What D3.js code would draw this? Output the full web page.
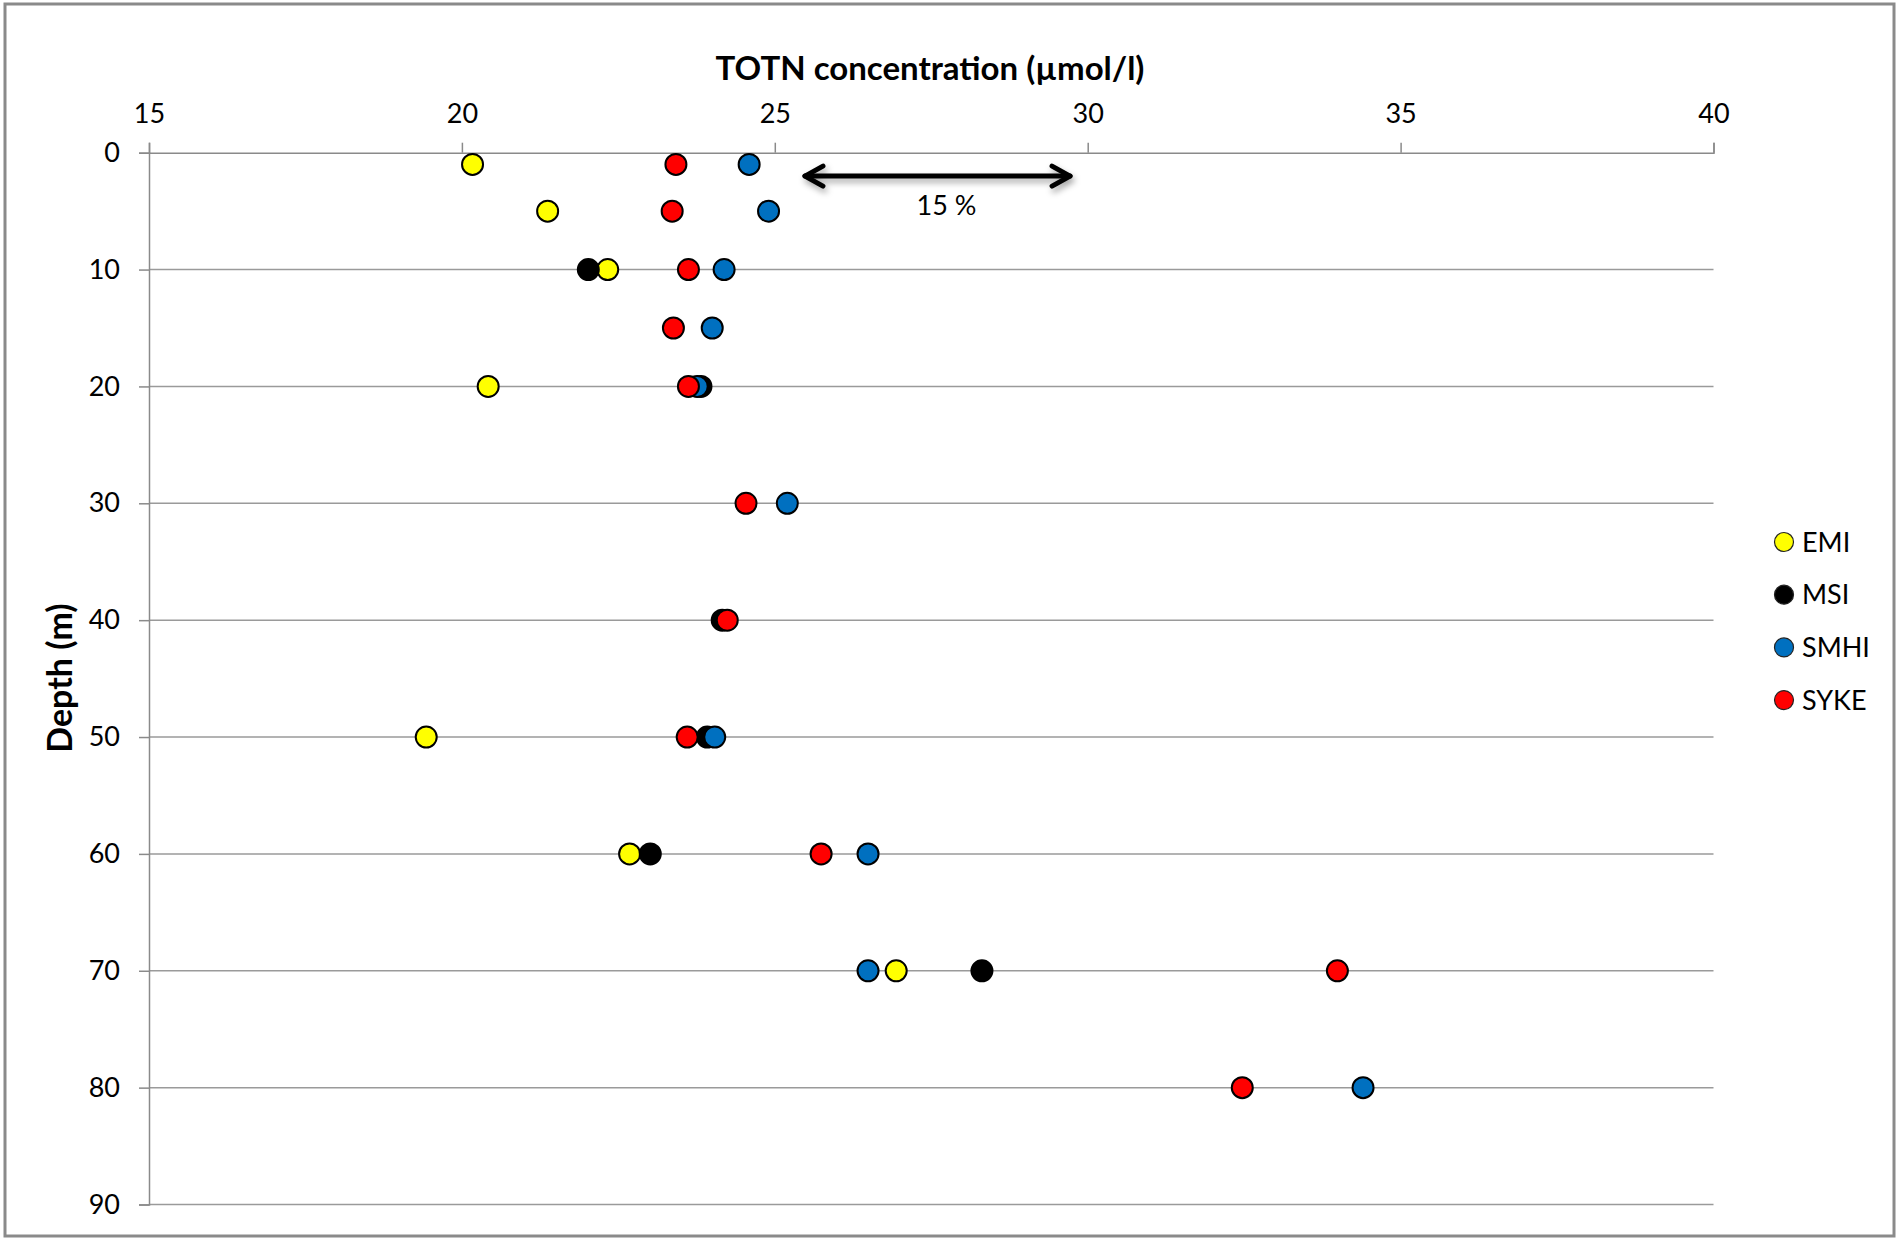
<!DOCTYPE html>
<html>
<head>
<meta charset="utf-8">
<script src="https://cdn.jsdelivr.net/npm/d3@7"></script>
<style>
  body { margin: 0; background: #fff; }
  svg text { font-family: Lato, "Open Sans", sans-serif; fill: #000; }
</style>
</head>
<body>
<svg id="chart" width="1900" height="1246"></svg>
<script>
// series names and colours
const seriesNames = ["EMI", "MSI", "SMHI", "SYKE"];
const seriesColors = ["#FFFF00", "#000000", "#0070C0", "#FF0000"];

// depth (m) and TOTN (µmol/l) for each lab
const emiDepth = [1, 5, 10, 20, 50, 60, 70];
const emiTotn = [20.17, 21.37, 22.33, 20.42, 19.43, 22.68, 26.94];

const msiDepth = [10, 20, 40, 50, 60, 70];
const msiTotn = [22.02, 23.82, 24.16, 23.92, 23.01, 28.31];

const smhiDepth = [1, 5, 10, 15, 20, 30, 50, 60, 70, 80];
const smhiTotn = [24.59, 24.9, 24.19, 24.0, 23.76, 25.2, 24.04, 26.49, 26.49, 34.4];

const sykeDepth = [1, 5, 10, 15, 20, 30, 40, 50, 60, 70, 80];
const sykeTotn = [23.42, 23.36, 23.62, 23.38, 23.62, 24.54, 24.24, 23.6, 25.74, 33.99, 32.47];

const xTicks = [15, 20, 25, 30, 35, 40];
const yTicks = [0, 10, 20, 30, 40, 50, 60, 70, 80, 90];

// the 15 % range arrow
const arrowFrom = 25.45, arrowTo = 29.75, arrowDepth = 2.0;

const series = [
  {depth: emiDepth, totn: emiTotn},
  {depth: msiDepth, totn: msiTotn},
  {depth: smhiDepth, totn: smhiTotn},
  {depth: sykeDepth, totn: sykeTotn}
].map((s, i) => ({
  name: seriesNames[i],
  color: seriesColors[i],
  points: s.depth.map((d, j) => ({depth: d, totn: s.totn[j]}))
}));

const svg = d3.select("#chart");

const defs = svg.append("defs");
const shadow = defs.append("filter").attr("id", "shadow")
  .attr("x", "-10%").attr("y", "-100%").attr("width", "120%").attr("height", "300%");
shadow.append("feDropShadow")
  .attr("dx", 2).attr("dy", 4).attr("stdDeviation", 3)
  .attr("flood-color", "#000").attr("flood-opacity", 0.35);

// outer frame
svg.append("rect")
  .attr("x", 5).attr("y", 4).attr("width", 1889).attr("height", 1232)
  .attr("fill", "#fff").attr("stroke", "#8a8a8a").attr("stroke-width", 3);

const x = d3.scaleLinear().domain([15, 40]).range([149, 1713.5]);
const y = d3.scaleLinear().domain([0, 90]).range([152.7, 1204.5]);

// gridlines
svg.append("g")
  .selectAll("line")
  .data(yTicks.slice(1))
  .enter()
  .append("line")
  .attr("x1", x(15)).attr("x2", x(40))
  .attr("y1", d => y(d)).attr("y2", d => y(d))
  .attr("stroke", "#9a9a9a").attr("stroke-width", 1.5);

const xAxis = svg.append("g")
  .attr("transform", "translate(0," + y(0) + ")")
  .call(d3.axisTop(x).tickValues(xTicks).tickSize(10).tickPadding(20).tickFormat(d3.format("d")));

const yAxis = svg.append("g")
  .attr("transform", "translate(" + x(15) + ",0)")
  .call(d3.axisLeft(y).tickValues(yTicks).tickSize(10).tickPadding(19).tickFormat(d3.format("d")));

[xAxis, yAxis].forEach(g => {
  g.select(".domain").attr("stroke", "#8a8a8a").attr("stroke-width", 1.5);
  g.selectAll(".tick line").attr("stroke", "#8a8a8a").attr("stroke-width", 1.5);
  g.selectAll(".tick text").style("font-size", "27px").attr("fill", "#000");
});

// titles
svg.append("text")
  .attr("x", 930).attr("y", 80)
  .attr("text-anchor", "middle")
  .style("font-size", "33px").style("font-weight", "bold")
  .text("TOTN concentration (µmol/l)");

svg.append("text")
  .attr("transform", "translate(72,678) rotate(-90)")
  .attr("text-anchor", "middle")
  .style("font-size", "34px").style("font-weight", "bold")
  .text("Depth (m)");

// points
series.forEach(s => {
  svg.append("g")
    .selectAll("circle")
    .data(s.points)
    .enter()
    .append("circle")
    .attr("cx", d => x(d.totn))
    .attr("cy", d => y(d.depth))
    .attr("r", 10.5)
    .attr("fill", s.color)
    .attr("stroke", "#000")
    .attr("stroke-width", 2);
});

// range arrow
const ay = y(arrowDepth);
const arrow = svg.append("g").attr("filter", "url(#shadow)")
  .attr("fill", "none").attr("stroke", "#000").attr("stroke-width", 5)
  .attr("stroke-linecap", "round").attr("stroke-linejoin", "round");
arrow.append("line")
  .attr("x1", x(arrowFrom) + 2).attr("x2", x(arrowTo) - 2)
  .attr("y1", ay).attr("y2", ay);
arrow.append("path")
  .attr("d", `M${x(arrowFrom) + 20},${ay - 10} L${x(arrowFrom) + 2},${ay} L${x(arrowFrom) + 20},${ay + 10}`);
arrow.append("path")
  .attr("d", `M${x(arrowTo) - 20},${ay - 10} L${x(arrowTo) - 2},${ay} L${x(arrowTo) - 20},${ay + 10}`);

svg.append("text")
  .attr("x", x((arrowFrom + arrowTo) / 2) + 9).attr("y", ay + 39)
  .attr("text-anchor", "middle")
  .style("font-size", "27px")
  .text("15 %");

// legend
const legend = svg.append("g")
  .selectAll("g")
  .data(series)
  .enter()
  .append("g")
  .attr("transform", (d, i) => "translate(1784," + (542 + i * 52.7) + ")");
legend.append("circle")
  .attr("r", 9.5)
  .attr("fill", d => d.color)
  .attr("stroke", "#222").attr("stroke-width", 1.2);
legend.append("text")
  .attr("x", 18).attr("dy", "0.36em")
  .style("font-size", "27px")
  .text(d => d.name);
</script>
</body>
</html>
